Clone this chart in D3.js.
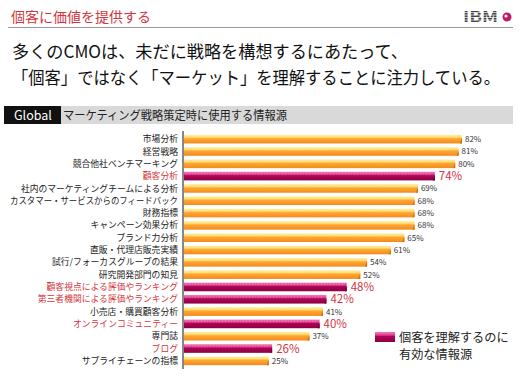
<!DOCTYPE html>
<html lang="ja">
<head>
<meta charset="UTF-8">
<title>マーケティング戦略策定時に使用する情報源</title>
<script src="https://d3js.org/d3.v7.min.js"></script>
<style>
    body { margin: 0; background: #fff; }
    svg { display: block; }
    text { font-family: "Noto Sans CJK JP", "Noto Sans", sans-serif; }
</style>
</head>
<body>
<svg id="chart" width="520" height="376"></svg>
<script>
// data
const categories = [
    "市場分析", "経営戦略", "競合他社ベンチマーキング", "顧客分析",
    "社内のマーケティングチームによる分析", "カスタマー・サービスからのフィードバック",
    "財務指標", "キャンペーン効果分析", "ブランド力分析", "直販・代理店販売実績",
    "試行/フォーカスグループの結果", "研究開発部門の知見",
    "顧客視点による評価やランキング", "第三者機関による評価やランキング",
    "小売店・購買顧客分析", "オンラインコミュニティー", "専門誌", "ブログ",
    "サプライチェーンの指標"
];
const values = [82, 81, 80, 74, 69, 68, 68, 68, 65, 61, 54, 52, 48, 42, 41, 40, 37, 26, 25];
// categories marked as useful for understanding individual customers
const highlighted = ["顧客分析", "顧客視点による評価やランキング", "第三者機関による評価やランキング",
    "オンラインコミュニティー", "ブログ"];

const headerText = "個客に価値を提供する";
const titleLines = ["多くのCMOは、未だに戦略を構想するにあたって、",
    "「個客」ではなく「マーケット」を理解することに注力している。"];
const bandLabel = "Global";
const bandTitle = "マーケティング戦略策定時に使用する情報源";
const legendLines = ["個客を理解するのに", "有効な情報源"];

const svg = d3.select("#chart");
const red = "#d2373f";

// squeeze a text if it is wider than max
function fit(sel, max) {
    sel.each(function () {
        if (this.getComputedTextLength() > max) {
            d3.select(this).attr("textLength", max).attr("lengthAdjust", "spacingAndGlyphs");
        }
    });
    return sel;
}

// gradients for the bars
const defs = svg.append("defs");
function grad(id, stops) {
    const g = defs.append("linearGradient").attr("id", id)
        .attr("x1", 0).attr("y1", 0).attr("x2", 0).attr("y2", 1);
    stops.forEach(s => g.append("stop").attr("offset", s[0]).attr("stop-color", s[1]));
}
grad("orange", [[0, "#fff2a8"], [0.3, "#ffd463"], [0.45, "#ffa633"], [1, "#f28a1c"]]);
grad("magenta", [[0, "#f37ab8"], [0.3, "#e2418f"], [0.45, "#ad0656"], [1, "#8d0044"]]);

// header
svg.append("text").attr("x", 11).attr("y", 22)
    .attr("font-size", 14).attr("fill", red).text(headerText);
svg.append("line").attr("x1", 8).attr("x2", 513).attr("y1", 27.5).attr("y2", 27.5)
    .attr("stroke", "#999").attr("stroke-width", 1);

// IBM logo
const logo = svg.append("g");
logo.append("text").attr("x", 463).attr("y", 21.5)
    .attr("font-family", "DejaVu Serif").attr("font-weight", "bold")
    .attr("font-size", 14).attr("fill", "#444")
    .attr("textLength", 35).attr("lengthAdjust", "spacingAndGlyphs")
    .text("IBM");
[12.5, 15, 17.5, 20].forEach(y => logo.append("line")
    .attr("x1", 462).attr("x2", 499).attr("y1", y).attr("y2", y)
    .attr("stroke", "#fff").attr("stroke-width", 0.7));
logo.append("circle").attr("cx", 507).attr("cy", 17).attr("r", 4.5).attr("fill", "#c0195f");
logo.append("circle").attr("cx", 506).attr("cy", 16).attr("r", 1.6).attr("fill", "#fff");

// main title
const titleWidths = [396, 488];
titleLines.forEach((t, i) => {
    svg.append("text").attr("x", 12).attr("y", 58 + i * 26)
        .attr("font-size", 17.5).attr("fill", "#111")
        .attr("textLength", titleWidths[i]).attr("lengthAdjust", "spacingAndGlyphs")
        .text(t);
});

// band with label
svg.append("rect").attr("x", 4).attr("y", 106).attr("width", 509).attr("height", 18).attr("fill", "#d9d9d9");
svg.append("rect").attr("x", 4).attr("y", 106).attr("width", 57).attr("height", 18).attr("fill", "#111");
svg.append("text").attr("x", 14).attr("y", 120).attr("font-size", 12.5)
    .attr("font-family", "Liberation Sans, Arial, sans-serif")
    .attr("fill", "#fff").text(bandLabel);
fit(svg.append("text").attr("x", 63).attr("y", 120).attr("font-size", 12.3)
    .attr("fill", "#222").text(bandTitle), 224);

// scales
const x = d3.scaleLinear().domain([0, 100]).range([184, 523]);
const y = d3.scaleBand().domain(categories).range([133, 367]).paddingInner(0.3).paddingOuter(0.15);

const rows = svg.append("g").selectAll("g")
    .data(categories.map((c, i) => ({ cat: c, val: values[i], hi: highlighted.includes(c) })))
    .join("g");

rows.append("rect")
    .attr("x", x(0))
    .attr("y", d => y(d.cat))
    .attr("width", d => x(d.val) - x(0))
    .attr("height", y.bandwidth())
    .attr("fill", d => d.hi ? "url(#magenta)" : "url(#orange)");

// bevelled end of bars
rows.append("path")
    .attr("d", d => {
        const x1 = x(d.val), y0 = y(d.cat), h = y.bandwidth();
        return `M${x1 - 2},${y0 + h} L${x1},${y0 + h * 0.35} L${x1},${y0 + h} Z`;
    })
    .attr("fill", d => d.hi ? "#6d0033" : "#d56d0c");

// dotted highlight line inside bar
rows.append("line")
    .attr("x1", x(0) + 2).attr("x2", d => x(d.val) - 3)
    .attr("y1", d => y(d.cat) + 2).attr("y2", d => y(d.cat) + 2)
    .attr("stroke", d => d.hi ? "#f6a0c8" : "#fff6c8")
    .attr("stroke-width", 0.6).attr("stroke-dasharray", "1,2");

// category labels
const labels = rows.append("text")
    .attr("x", 178)
    .attr("y", d => y(d.cat) + y.bandwidth() / 2 + 3.1)
    .attr("text-anchor", "end")
    .attr("font-size", 8.8)
    .attr("fill", d => d.hi ? red : "#222")
    .text(d => d.cat);
fit(labels, 168);

// value labels
rows.append("text")
    .attr("x", d => x(d.val) + (d.hi ? 4 : 3))
    .attr("y", d => y(d.cat) + y.bandwidth() / 2 + (d.hi ? 4.2 : 3))
    .attr("font-family", "Liberation Sans, Arial, sans-serif")
    .attr("font-size", d => d.hi ? 11.5 : 8)
    .attr("fill", d => d.hi ? red : "#333")
    .text(d => d.val + "%");

// axis line
svg.append("line").attr("x1", 183).attr("x2", 183).attr("y1", 131).attr("y2", 369)
    .attr("stroke", "#111").attr("stroke-width", 1);

// legend
svg.append("rect").attr("x", 375).attr("y", 332).attr("width", 20).attr("height", 10)
    .attr("fill", "url(#magenta)");
legendLines.forEach((t, i) => {
    fit(svg.append("text").attr("x", 399).attr("y", 342 + i * 17)
        .attr("font-size", 12.2).attr("fill", "#222").text(t), 112);
});
</script>
</body>
</html>
